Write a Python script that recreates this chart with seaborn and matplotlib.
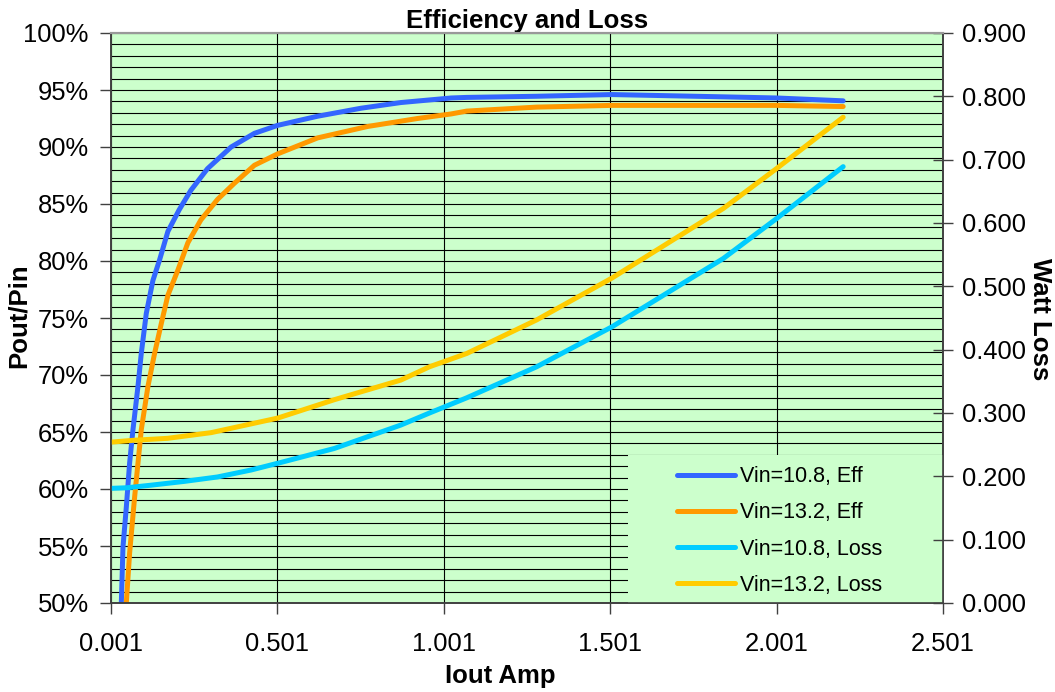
import numpy as np
import pandas as pd
import seaborn as sns
import matplotlib
matplotlib.use("Agg")
import matplotlib.pyplot as plt
from matplotlib.ticker import MultipleLocator, FuncFormatter
from matplotlib.patches import Rectangle

# valores
iout_eff_108 = [0.032, 0.037, 0.047, 0.057, 0.067, 0.082, 0.092, 0.107, 0.127, 0.147,
                0.172, 0.206, 0.241, 0.291, 0.362, 0.432, 0.502, 0.622, 0.752, 0.872,
                1.023, 1.070, 1.280, 1.506, 1.841, 2.001, 2.201]
eff_108 = [50.0, 54.9, 58.4, 62.3, 65.2, 69.0, 71.9, 75.4, 78.3, 80.1,
           82.6, 84.5, 86.2, 88.1, 90.0, 91.2, 91.9, 92.7, 93.4, 93.9,
           94.3, 94.35, 94.45, 94.6, 94.4, 94.3, 94.05]

iout_eff_132 = [0.047, 0.057, 0.072, 0.092, 0.112, 0.132, 0.152, 0.172, 0.202, 0.232,
                0.271, 0.321, 0.371, 0.432, 0.502, 0.622, 0.772, 0.922, 1.023, 1.070,
                1.280, 1.506, 1.841, 2.001, 2.201]
eff_132 = [50.0, 54.4, 59.3, 65.2, 69.0, 71.9, 74.5, 77.0, 79.2, 81.6,
           83.6, 85.4, 86.8, 88.4, 89.4, 90.8, 91.8, 92.5, 92.9, 93.15,
           93.5, 93.65, 93.65, 93.65, 93.55]

iout_loss_108 = [0.001, 0.050, 0.121, 0.221, 0.321, 0.422, 0.512, 0.672, 0.872, 0.958,
                 1.070, 1.280, 1.506, 1.841, 2.001, 2.201]
loss_108 = [0.181, 0.182, 0.186, 0.192, 0.199, 0.210, 0.222, 0.244, 0.281, 0.300,
            0.324, 0.373, 0.436, 0.544, 0.607, 0.689]

iout_loss_132 = [0.001, 0.071, 0.171, 0.302, 0.502, 0.672, 0.872, 0.958, 1.070, 1.280,
                 1.506, 1.841, 2.001, 2.201]
loss_132 = [0.254, 0.257, 0.260, 0.269, 0.292, 0.321, 0.352, 0.373, 0.394, 0.447,
            0.513, 0.623, 0.686, 0.767]

sns.set_style("white")
plt.rcParams['font.family'] = ['Liberation Sans', 'DejaVu Sans']
plt.rcParams['text.color'] = 'black'
plt.rcParams['axes.labelcolor'] = 'black'
plt.rcParams['xtick.color'] = 'black'
plt.rcParams['ytick.color'] = 'black'

fig = plt.figure(figsize=(10.55, 6.92), dpi=100)
ax = fig.add_axes([111/1055, 1-603/692, 832/1055, 570/692])
ax.set_facecolor('#CCFFCC')
ax2 = ax.twinx()

lw = 3.6
sns.lineplot(x=iout_eff_108, y=np.array(eff_108)/100, ax=ax, color='#3366FF', lw=lw,
             label='Vin=10.8, Eff', sort=False, solid_capstyle='round')
sns.lineplot(x=iout_eff_132, y=np.array(eff_132)/100, ax=ax, color='#FF9900', lw=lw,
             label='Vin=13.2, Eff', sort=False, solid_capstyle='round')
sns.lineplot(x=iout_loss_108, y=loss_108, ax=ax2, color='#00CCFF', lw=lw,
             label='Vin=10.8, Loss', sort=False, solid_capstyle='round')
sns.lineplot(x=iout_loss_132, y=loss_132, ax=ax2, color='#FFCC00', lw=lw,
             label='Vin=13.2, Loss', sort=False, solid_capstyle='round')

for a in (ax, ax2):
    if a.get_legend() is not None:
        a.get_legend().remove()

# ejes
ax.set_xlim(0.001, 2.501)
ax.set_ylim(0.5, 1.0)
ax2.set_ylim(0, 0.9)
ax.set_xticks(np.arange(0.001, 2.502, 0.5))
ax.xaxis.set_major_formatter(FuncFormatter(lambda v, p: '%.3f' % v))
ax.yaxis.set_major_locator(MultipleLocator(0.05))
ax.yaxis.set_minor_locator(MultipleLocator(0.01))
ax.yaxis.set_major_formatter(FuncFormatter(lambda v, p: '%d%%' % round(v*100)))
ax2.yaxis.set_major_locator(MultipleLocator(0.1))
ax2.yaxis.set_major_formatter(FuncFormatter(lambda v, p: '%.3f' % v))

ax.grid(True, which='major', axis='x', color='black', lw=0.8)
ax.grid(True, which='both', axis='y', color='black', lw=0.8)
ax.set_axisbelow(True)

fs = 18.4
ax.tick_params(axis='x', direction='out', length=8, width=1, pad=13, labelsize=fs,
               bottom=True, color='#404040')
ax.tick_params(axis='y', which='major', direction='out', length=8, width=1, pad=8,
               labelsize=fs, left=True, color='#404040')
ax.tick_params(axis='y', which='minor', length=0)
ax2.tick_params(axis='y', direction='inout', length=14, width=1, pad=6.5,
                labelsize=fs, right=True, color='#404040')

for a in (ax, ax2):
    for s in ['left', 'right', 'bottom']:
        a.spines[s].set_color('#404040')
        a.spines[s].set_linewidth(1.2)
    a.spines['top'].set_color('#999999')
    a.spines['top'].set_linewidth(1.5)

ax.set_title('Efficiency and Loss', fontsize=18.5, fontweight='bold', pad=2)
ax.set_xlabel('Iout Amp', fontsize=18.5, fontweight='bold', va='center')
ax.xaxis.set_label_coords(0.4675, -0.128)
ax.set_ylabel('Pout/Pin', fontsize=18.5, fontweight='bold', va='center')
ax.yaxis.set_label_coords(-0.1106, 0.5035)
ax2.set_ylabel('Watt Loss', fontsize=18.5, fontweight='bold', rotation=-90, va='center')
ax2.yaxis.set_label_coords(1.1166, 0.498)

# fondo de la leyenda (tapa la rejilla)
ax2.add_patch(Rectangle((0.621, 0.0), 0.379, 0.26, transform=ax2.transAxes,
                        facecolor='#CCFFCC', edgecolor='none', zorder=0.5))

h1, l1 = ax.get_legend_handles_labels()
h2, l2 = ax2.get_legend_handles_labels()
leg = ax2.legend(h1 + h2, l1 + l2, loc='upper left', bbox_to_anchor=(0.680, 0.2397),
                 fontsize=15.5, frameon=False, handlelength=2.7, handletextpad=0.25,
                 labelspacing=0.7, borderaxespad=0, borderpad=0)
for ln in leg.get_lines():
    ln.set_solid_capstyle('round')

fig.savefig('out.png', dpi=100)
